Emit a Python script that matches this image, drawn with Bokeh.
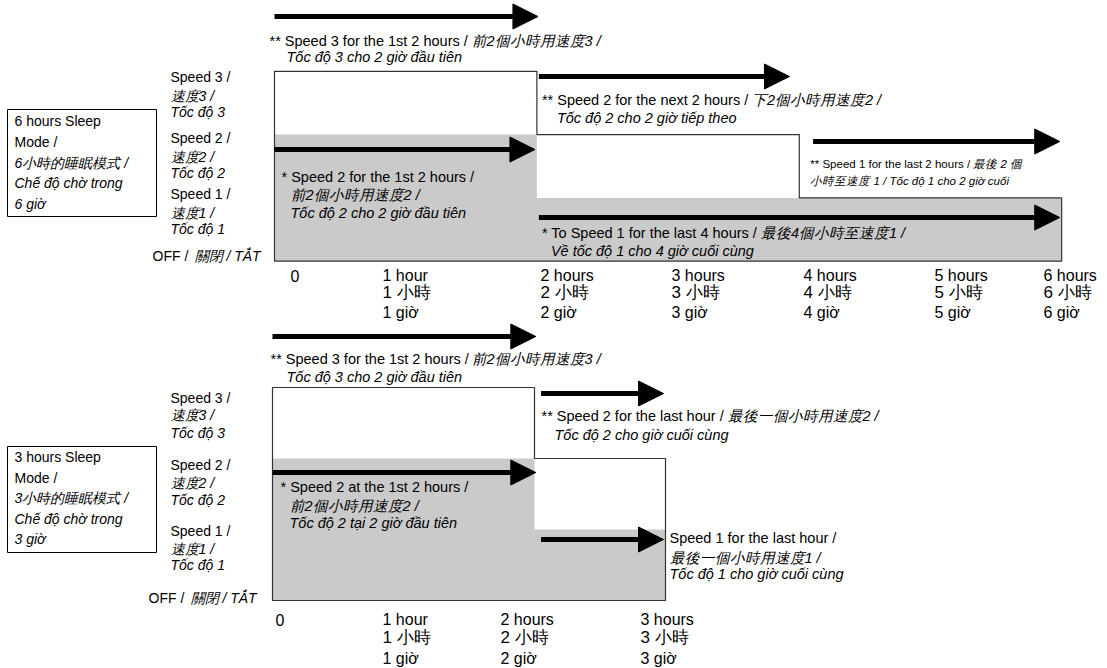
from bokeh.plotting import figure
from bokeh.models import Range1d, Arrow, NormalHead
from bokeh.core.properties import value
from bokeh.embed import file_html
from bokeh.resources import INLINE

# ------------------------------------------------------------------ data
# 6 hours sleep mode: segment edges (hours) and speed level per segment
hours6_edges = [0, 2, 4, 6]
speed6_outer = [3, 2, 1]      # ** profile
speed6_inner = [2, 1, 1]      # *  profile (grey)
tick6_row1 = ["0", "1 hour", "2 hours", "3 hours", "4 hours", "5 hours", "6 hours"]
tick6_row2 = ["", "1 小時", "2 小時", "3 小時", "4 小時", "5 小時", "6 小時"]
tick6_row3 = ["", "1 giờ", "2 giờ", "3 giờ", "4 giờ", "5 giờ", "6 giờ"]

# 3 hours sleep mode
hours3_edges = [0, 2, 3]
speed3_outer = [3, 2]
speed3_inner = [2, 1]
tick3_row1 = ["0", "1 hour", "2 hours", "3 hours"]
tick3_row2 = ["", "1 小時", "2 小時", "3 小時"]
tick3_row3 = ["", "1 giờ", "2 giờ", "3 giờ"]

level_names = [("Speed 3 /", "速度3 /", "Tốc độ 3"),
               ("Speed 2 /", "速度2 /", "Tốc độ 2"),
               ("Speed 1 /", "速度1 /", "Tốc độ 1")]
off_name = ("OFF /", "關閉 / TẮT")

mode6_lines = [("6 hours Sleep", False), ("Mode /", False), ("6小時的睡眠模式 /", True),
               ("Chế độ chờ trong", True), ("6 giờ", True)]
mode3_lines = [("3 hours Sleep", False), ("Mode /", False), ("3小時的睡眠模式 /", True),
               ("Chế độ chờ trong", True), ("3 giờ", True)]

# ------------------------------------------------------------------ layout
W, H = 1107, 668
GREY = "#cacaca"
EDGE = "#333333"
FONT = "Liberation Sans"
AS = 14.5   # annotation font size

p = figure(width=W, height=H, x_range=Range1d(0, W), y_range=Range1d(H, 0),
           x_axis_type=None, y_axis_type=None, output_backend="svg",
           toolbar_location=None, min_border=0, outline_line_color=None,
           background_fill_color="white", border_fill_color="white")


def x_scale(px0, px_per_hour):
    return Range1d(start=-px0 / px_per_hour, end=(W - px0) / px_per_hour)


def y_scale(py0, px_per_level):
    return Range1d(start=(py0 - H) / px_per_level, end=py0 / px_per_level)


p.extra_x_ranges = {"h6": x_scale(274, 131.2), "h3": x_scale(272, 131.0)}
p.extra_y_ranges = {"s6": y_scale(260.7, 63.3), "s3": y_scale(600, 71.0)}


def step_poly(edges, speeds):
    xs, ys = [edges[0]], [0]
    for i, s in enumerate(speeds):
        xs += [edges[i], edges[i + 1]]
        ys += [s, s]
    xs.append(edges[-1])
    ys.append(0)
    return xs, ys


def runs(edges, speeds):
    out, start = [], 0
    for i in range(1, len(speeds) + 1):
        if i == len(speeds) or speeds[i] != speeds[start]:
            out.append((edges[start], edges[i]))
            start = i
    return out


def txt(x, y, s, size=14, italic=False, xr=None, dx=0, align="left"):
    kw = {"x_range_name": xr} if xr else {}
    p.text(x=[x], y=[y], text=[s], text_font=value(FONT), text_font_size=f"{size}px",
           text_font_style="italic" if italic else "normal", text_align=align,
           text_baseline="middle", text_color="black", x_offset=dx, **kw)


def arrow(xr, x0, x1, y):
    p.add_layout(Arrow(end=NormalHead(size=25, fill_color="black", line_color="black"),
                       x_start=x0, y_start=y, x_end=x1, y_end=y, line_width=5,
                       line_color="black", x_range_name=xr))


def panel(xr, yr, edges, outer, inner, outer_y, outer_pad, inner_y, inner_pad):
    xs, ys = step_poly(edges, inner)
    p.patch(xs, ys, fill_color=GREY, line_color=None, x_range_name=xr, y_range_name=yr)
    xs, ys = step_poly(edges, outer)
    p.patch(xs, ys, fill_color=None, line_color=EDGE, line_width=1.2,
            x_range_name=xr, y_range_name=yr)
    for (a, b), y, (pa, pb) in zip(runs(edges, outer), outer_y, outer_pad):
        arrow(xr, a + pa, b - pb, y)
    for (a, b), y, (pa, pb) in zip(runs(edges, inner), inner_y, inner_pad):
        arrow(xr, a + pa, b - pb, y)


panel("h6", "s6", hours6_edges, speed6_outer, speed6_inner,
      [16, 76, 141], [(0, -0.008), (0.015, 0.075), (0.105, 0.015)],
      [149, 217], [(0, 0.015), (0.015, 0.015)])
panel("h3", "s3", hours3_edges, speed3_outer, speed3_inner,
      [336, 393], [(0, -0.01), (0.05, 0.015)],
      [472, 539], [(0, -0.01), (0.05, 0.015)])

# left mode boxes
p.quad(left=[7, 7], right=[156, 156], top=[109, 446], bottom=[216, 552],
       fill_color="white", line_color="black", line_width=1)
for lines, ys in ((mode6_lines, [120, 141, 162, 182, 203]),
                  (mode3_lines, [456, 477, 497, 518, 538])):
    for (s, it), y in zip(lines, ys):
        txt(14, y, s, italic=it)

# level labels
for groups, off_y, off_x in (([[76, 95, 111], [137, 156, 172], [193, 212, 228]], 255, 152),
                             ([[397, 414, 432], [464, 482, 499], [530, 548, 564]], 597, 148)):
    for names, ys in zip(level_names, groups):
        for k, (s, y) in enumerate(zip(names, ys)):
            txt(170, y, s, italic=k > 0)
    txt(off_x, off_y, off_name[0])
    txt(off_x + 42, off_y, off_name[1], italic=True)

# time labels
for r1, r2, r3, xs, ys in ((tick6_row1, tick6_row2, tick6_row3,
                            [290, 382, 540, 671, 803, 934, 1043], [275, 292, 312]),
                           (tick3_row1, tick3_row2, tick3_row3,
                            [275, 382, 500, 640], [619, 637, 658])):
    for a, b, c, x in zip(r1, r2, r3, xs):
        txt(x, ys[0], a, size=16)
        if b:
            txt(x, ys[1], b, size=17)
            txt(x, ys[2], c, size=16)

# annotations, 6 hours
txt(0, 40, "** Speed 3 for the 1st 2 hours /", size=AS, xr="h6", dx=-5)
txt(0, 40, "前2個小時用速度3 /", size=AS, italic=True, xr="h6", dx=197)
txt(0, 56, "Tốc độ 3 cho 2 giờ đầu tiên", size=AS, italic=True, xr="h6", dx=12)
txt(2, 99, "** Speed 2 for the next 2 hours /", size=AS, xr="h6", dx=5)
txt(2, 99, "下2個小時用速度2 /", size=AS, italic=True, xr="h6", dx=215)
txt(2, 117, "Tốc độ 2 cho 2 giờ tiếp theo", size=AS, italic=True, xr="h6", dx=20)
txt(4, 163, "** Speed 1 for the last 2 hours /", size=11.5, xr="h6", dx=11)
txt(4, 163, "最後 2 個", size=11.5, italic=True, xr="h6", dx=174)
txt(4, 180, "小時至速度 1 / Tốc độ 1 cho 2 giờ cuối", size=11.5, italic=True, xr="h6", dx=11)
txt(0, 176, "* Speed 2 for the 1st 2 hours /", size=AS, xr="h6", dx=7)
txt(0, 194, "前2個小時用速度2 /", size=AS, italic=True, xr="h6", dx=16)
txt(0, 212, "Tốc độ 2 cho 2 giờ đầu tiên", size=AS, italic=True, xr="h6", dx=16)
txt(2, 232, "* To Speed 1 for the last 4 hours /", size=AS, xr="h6", dx=5)
txt(2, 232, "最後4個小時至速度1 /", size=AS, italic=True, xr="h6", dx=224)
txt(2, 250, "Về tốc độ 1 cho 4 giờ cuối cùng", size=AS, italic=True, xr="h6", dx=14)

# annotations, 3 hours
txt(0, 358, "** Speed 3 for the 1st 2 hours /", size=AS, xr="h3", dx=-2)
txt(0, 358, "前2個小時用速度3 /", size=AS, italic=True, xr="h3", dx=199)
txt(0, 376, "Tốc độ 3 cho 2 giờ đầu tiên", size=AS, italic=True, xr="h3", dx=14)
txt(2, 415, "** Speed 2 for the last hour /", size=AS, xr="h3", dx=7)
txt(2, 415, "最後一個小時用速度2 /", size=AS, italic=True, xr="h3", dx=193)
txt(2, 434, "Tốc độ 2 cho giờ cuối cùng", size=AS, italic=True, xr="h3", dx=20)
txt(0, 486, "* Speed 2 at the 1st 2 hours /", size=AS, xr="h3", dx=8)
txt(0, 505, "前2個小時用速度2 /", size=AS, italic=True, xr="h3", dx=17)
txt(0, 522, "Tốc độ 2 tại 2 giờ đầu tiên", size=AS, italic=True, xr="h3", dx=17)
txt(3, 537, "Speed 1 for the last hour /", size=AS, xr="h3", dx=4)
txt(3, 557, "最後一個小時用速度1 /", size=AS, italic=True, xr="h3", dx=4)
txt(3, 573, "Tốc độ 1 cho giờ cuối cùng", size=AS, italic=True, xr="h3", dx=4)

open("out.html", "w").write(file_html(p, INLINE))
